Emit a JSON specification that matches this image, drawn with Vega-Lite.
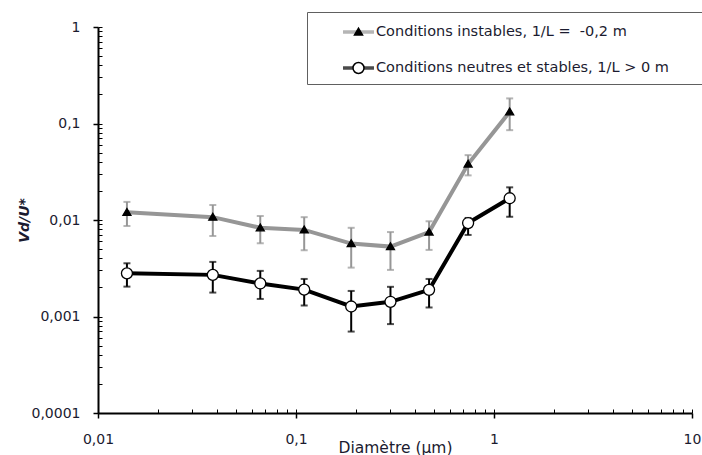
{
  "$schema": "https://vega.github.io/schema/vega-lite/v6.json",
  "width": 594,
  "height": 386,
  "autosize": {"type": "none"},
  "padding": {"left": 98, "top": 27, "right": 10, "bottom": 42},
  "background": "white",
  "config": {
    "view": {"stroke": null},
    "font": "DejaVu Sans",
    "axis": {"grid": false, "domainColor": "black", "domainWidth": 2, "tickColor": "black", "labelColor": "#1b1b2f", "titleColor": "#1b1b2f", "labelFont": "DejaVu Sans", "titleFont": "DejaVu Sans"}
  },
  "data": {
    "values": [
      {"d": 0.014, "v": 0.0120, "lo": 0.00867, "hi": 0.0154, "serie": "Conditions instables, 1/L =  -0,2 m"},
      {"d": 0.038, "v": 0.0107, "lo": 0.00683, "hi": 0.0143, "serie": "Conditions instables, 1/L =  -0,2 m"},
      {"d": 0.066, "v": 0.0083, "lo": 0.00574, "hi": 0.0110, "serie": "Conditions instables, 1/L =  -0,2 m"},
      {"d": 0.11, "v": 0.0079, "lo": 0.00486, "hi": 0.0107, "serie": "Conditions instables, 1/L =  -0,2 m"},
      {"d": 0.19, "v": 0.0057, "lo": 0.00321, "hi": 0.0083, "serie": "Conditions instables, 1/L =  -0,2 m"},
      {"d": 0.30, "v": 0.0053, "lo": 0.00304, "hi": 0.0075, "serie": "Conditions instables, 1/L =  -0,2 m"},
      {"d": 0.47, "v": 0.0075, "lo": 0.0049, "hi": 0.0097, "serie": "Conditions instables, 1/L =  -0,2 m"},
      {"d": 0.74, "v": 0.038, "lo": 0.029, "hi": 0.047, "serie": "Conditions instables, 1/L =  -0,2 m"},
      {"d": 1.2, "v": 0.132, "lo": 0.0853, "hi": 0.182, "serie": "Conditions instables, 1/L =  -0,2 m"},
      {"d": 0.014, "v": 0.0028, "lo": 0.00204, "hi": 0.00356, "serie": "Conditions neutres et stables, 1/L > 0 m"},
      {"d": 0.038, "v": 0.0027, "lo": 0.00177, "hi": 0.00368, "serie": "Conditions neutres et stables, 1/L > 0 m"},
      {"d": 0.066, "v": 0.0022, "lo": 0.00152, "hi": 0.00297, "serie": "Conditions neutres et stables, 1/L > 0 m"},
      {"d": 0.11, "v": 0.0019, "lo": 0.0013, "hi": 0.00245, "serie": "Conditions neutres et stables, 1/L > 0 m"},
      {"d": 0.19, "v": 0.00127, "lo": 0.000698, "hi": 0.00184, "serie": "Conditions neutres et stables, 1/L > 0 m"},
      {"d": 0.30, "v": 0.00142, "lo": 0.000834, "hi": 0.00203, "serie": "Conditions neutres et stables, 1/L > 0 m"},
      {"d": 0.47, "v": 0.00189, "lo": 0.00124, "hi": 0.00245, "serie": "Conditions neutres et stables, 1/L > 0 m"},
      {"d": 0.74, "v": 0.0093, "lo": 0.0070, "hi": 0.0105, "serie": "Conditions neutres et stables, 1/L > 0 m"},
      {"d": 1.2, "v": 0.0168, "lo": 0.0108, "hi": 0.0218, "serie": "Conditions neutres et stables, 1/L > 0 m"}
    ]
  },
  "resolve": {"axis": {"x": "independent", "y": "independent"}},
  "layer": [
    {
      "mark": {"type": "rule", "strokeWidth": 2},
      "encoding": {
        "x": {"field": "d", "type": "quantitative", "scale": {"type": "log", "domain": [0.01, 10], "nice": false}, "axis": null},
        "y": {"field": "lo", "type": "quantitative", "scale": {"type": "log", "domain": [0.0001, 1], "nice": false}, "axis": null},
        "y2": {"field": "hi"},
        "color": {"field": "serie", "type": "nominal", "scale": {"range": ["#969696", "#000000"]}}
      }
    },
    {
      "mark": {"type": "tick", "orient": "horizontal", "size": 7, "thickness": 2},
      "encoding": {
        "x": {"field": "d", "type": "quantitative", "axis": null},
        "y": {"field": "hi", "type": "quantitative", "axis": null},
        "color": {"field": "serie", "type": "nominal"}
      }
    },
    {
      "mark": {"type": "tick", "orient": "horizontal", "size": 7, "thickness": 2},
      "encoding": {
        "x": {"field": "d", "type": "quantitative", "axis": null},
        "y": {"field": "lo", "type": "quantitative", "axis": null},
        "color": {"field": "serie", "type": "nominal"}
      }
    },
    {
      "mark": {"type": "line", "strokeWidth": 4},
      "encoding": {
        "x": {"field": "d", "type": "quantitative", "title": "Diamètre (µm)",
          "axis": {"orient": "bottom", "values": [0.01, 0.1, 1, 10], "labelExpr": "replace(format(datum.value, '~g'), '.', ',')", "labelFontSize": 14, "labelPadding": 14, "labelFlush": false, "labelOverlap": false, "tickSize": 5, "tickWidth": 1.5, "titleFontSize": 15.5, "titleFontWeight": "normal", "titleY": 39, "titleBaseline": "alphabetic"}},
        "y": {"field": "v", "type": "quantitative", "title": "Vd/U*",
          "axis": {"orient": "left", "values": [0.0001, 0.001, 0.01, 0.1, 1], "labelExpr": "replace(format(datum.value, '~g'), '.', ',')", "labelFontSize": 14, "labelPadding": 13, "labelFlush": false, "labelOverlap": false, "tickSize": 5, "tickWidth": 1.5, "titleFontSize": 14, "titleFontWeight": "bold", "titleFontStyle": "italic", "titleX": -70, "titleY": 193, "titleAngle": -90, "titleBaseline": "alphabetic", "titleAlign": "center"}},
        "color": {"field": "serie", "type": "nominal",
          "legend": {"title": null, "orient": "none", "legendX": 209, "legendY": -15, "padding": 9, "symbolType": "M-1.72,0H1.72", "symbolSize": 324, "symbolStrokeWidth": 3.5, "symbolOffset": 31.5, "labelOffset": 6.5, "rowPadding": 18, "labelFont": "DejaVu Sans", "labelFontSize": 14.5, "labelColor": "#1b1b2f", "labelLimit": 600, "labelExpr": "replace(datum.label, '=  -', '=\u00a0\u00a0-') + '\u00a0\u2800\u2800'", "strokeColor": "#606060"}}
      }
    },
    {
      "mark": {"type": "point", "filled": true, "size": 400, "opacity": 1, "stroke": "black", "strokeWidth": 1.3},
      "encoding": {
        "x": {"field": "d", "type": "quantitative",
          "axis": {"orient": "bottom", "values": [0.01, 0.02, 0.03, 0.04, 0.05, 0.06, 0.07, 0.08, 0.09, 0.1, 0.2, 0.3, 0.4, 0.5, 0.6, 0.7, 0.8, 0.9, 1, 2, 3, 4, 5, 6, 7, 8, 9, 10], "domain": false, "labels": false, "title": null, "tickSize": -4, "tickWidth": 1}},
        "y": {"field": "v", "type": "quantitative",
          "axis": {"orient": "left", "values": [0.0001, 0.0002, 0.0003, 0.0004, 0.0005, 0.0006, 0.0007, 0.0008, 0.0009, 0.001, 0.002, 0.003, 0.004, 0.005, 0.006, 0.007, 0.008, 0.009, 0.01, 0.02, 0.03, 0.04, 0.05, 0.06, 0.07, 0.08, 0.09, 0.1, 0.2, 0.3, 0.4, 0.5, 0.6, 0.7, 0.8, 0.9, 1], "domain": false, "labels": false, "title": null, "tickSize": -4, "tickWidth": 1}},
        "shape": {"field": "serie", "type": "nominal",
          "scale": {"domain": ["Conditions instables, 1/L =  -0,2 m", "Conditions neutres et stables, 1/L > 0 m"], "range": ["M-0.4,0.3L0.4,0.3L0,-0.38Z", "M-0.55,0A0.55,0.55,0,1,1,0.55,0A0.55,0.55,0,1,1,-0.55,0Z"]},
          "legend": {"title": null, "orient": "none", "legendX": 209, "legendY": -15, "padding": 9, "symbolSize": 400, "symbolStrokeWidth": 1.5, "symbolStrokeColor": "black", "symbolFillColor": "white", "symbolOpacity": 1, "symbolOffset": 31.5, "labelOffset": 6.5, "rowPadding": 18, "labelFont": "DejaVu Sans", "labelFontSize": 14.5, "labelOpacity": 0, "labelLimit": 600, "labelExpr": "replace(datum.label, '=  -', '=\u00a0\u00a0-') + '\u00a0\u2800\u2800'"}},
        "fill": {"field": "serie", "type": "nominal",
          "scale": {"domain": ["Conditions instables, 1/L =  -0,2 m", "Conditions neutres et stables, 1/L > 0 m"], "range": ["black", "white"]},
          "legend": {"title": null, "orient": "none", "legendX": 209, "legendY": -15, "padding": 9, "symbolSize": 400, "symbolStrokeWidth": 1.5, "symbolStrokeColor": "black", "symbolFillColor": "white", "symbolOpacity": 1, "symbolOffset": 31.5, "labelOffset": 6.5, "rowPadding": 18, "labelFont": "DejaVu Sans", "labelFontSize": 14.5, "labelOpacity": 0, "labelLimit": 600, "labelExpr": "replace(datum.label, '=  -', '=\u00a0\u00a0-') + '\u00a0\u2800\u2800'"}}
      }
    }
  ]
}
